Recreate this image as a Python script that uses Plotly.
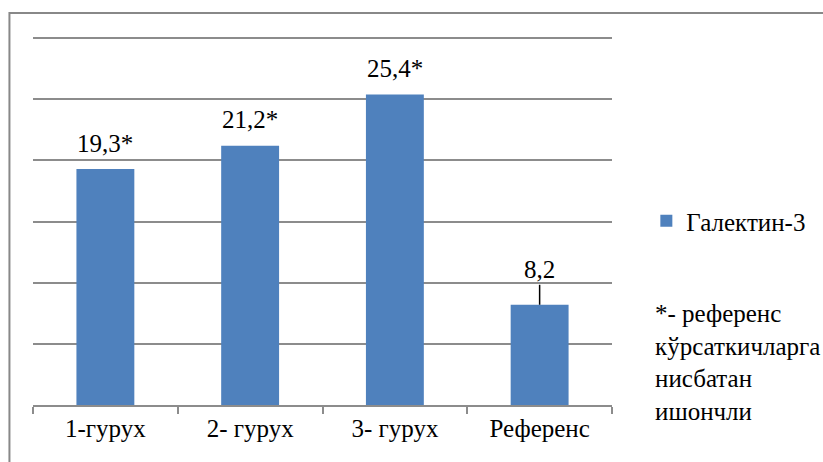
import plotly.graph_objects as go

categories = ["1-гурух", "2- гурух", "3- гурух", "Референс"]
values = [19.3, 21.2, 25.4, 8.2]
stars = ["*", "*", "*", ""]
series_name = "Галектин-3"
footnote_lines = ["*- референс", "кўрсаткичларга", "нисбатан", "ишончли"]
y_ticks = [0, 5, 10, 15, 20, 25, 30]

BAR = "#4f81bd"
GRID = "#8c8c8c"
FONT = "Liberation Serif"
FS = 25

W, H = 823, 462
ML, MR, MT, MB = 33, 200, 37, 57
PW = W - ML - MR
PH = H - MT - MB

fig = go.Figure()
fig.add_trace(go.Bar(
    x=categories, y=values, name=series_name,
    marker=dict(color=BAR, line=dict(width=0)),
    showlegend=True,
))

annotations = []
for c, v, s in zip(categories, values, stars):
    label = f"{v:.1f}".replace(".", ",") + s
    if s:
        annotations.append(dict(x=c, y=v, xref="x", yref="y", text=label,
                                showarrow=False, yanchor="middle", yshift=26,
                                font=dict(family=FONT, size=FS)))
    else:
        annotations.append(dict(x=c, y=v, xref="x", yref="y", text=label,
                                showarrow=True, arrowhead=0, arrowwidth=1.5,
                                arrowcolor="black", ax=0, ay=-35, standoff=0,
                                font=dict(family=FONT, size=FS)))

annotations.append(dict(
    x=(665 - ML) / PW, y=(MT + PH - 362) / PH, xref="paper", yref="paper",
    xanchor="left", yanchor="middle", align="left", showarrow=False,
    text="<br>".join(footnote_lines),
    font=dict(family=FONT, size=FS),
))

fig.update_layout(
    width=W, height=H,
    margin=dict(l=ML, r=MR, t=MT, b=MB, pad=0),
    paper_bgcolor="white", plot_bgcolor="white",
    bargap=0.6,
    font=dict(color="black"),
    showlegend=True,
    legend=dict(x=(658 - ML) / PW, y=(MT + PH - 221) / PH, xanchor="left",
                yanchor="middle", bgcolor="rgba(0,0,0,0)",
                font=dict(family=FONT, size=FS)),
    annotations=annotations,
    shapes=[dict(type="rect", xref="paper", yref="paper",
                 x0=(9 - ML) / PW, x1=1.5, y0=(MT + PH - 13) / PH, y1=-0.5,
                 line=dict(color="#888888", width=2), layer="below")],
    xaxis=dict(showline=True, linecolor=GRID, linewidth=1.5,
               ticks="outside", tickson="boundaries", ticklen=7,
               tickcolor=GRID, tickwidth=1.5, showgrid=False,
               tickfont=dict(family=FONT, size=FS)),
    yaxis=dict(range=[0, 30.1], tickvals=y_ticks, showticklabels=False,
               showgrid=True, gridcolor=GRID, gridwidth=1.5,
               zeroline=False, showline=False, fixedrange=True),
)

fig.write_html("out.html", config={"displayModeBar": False},
               post_script="document.body.style.margin='0px';")
